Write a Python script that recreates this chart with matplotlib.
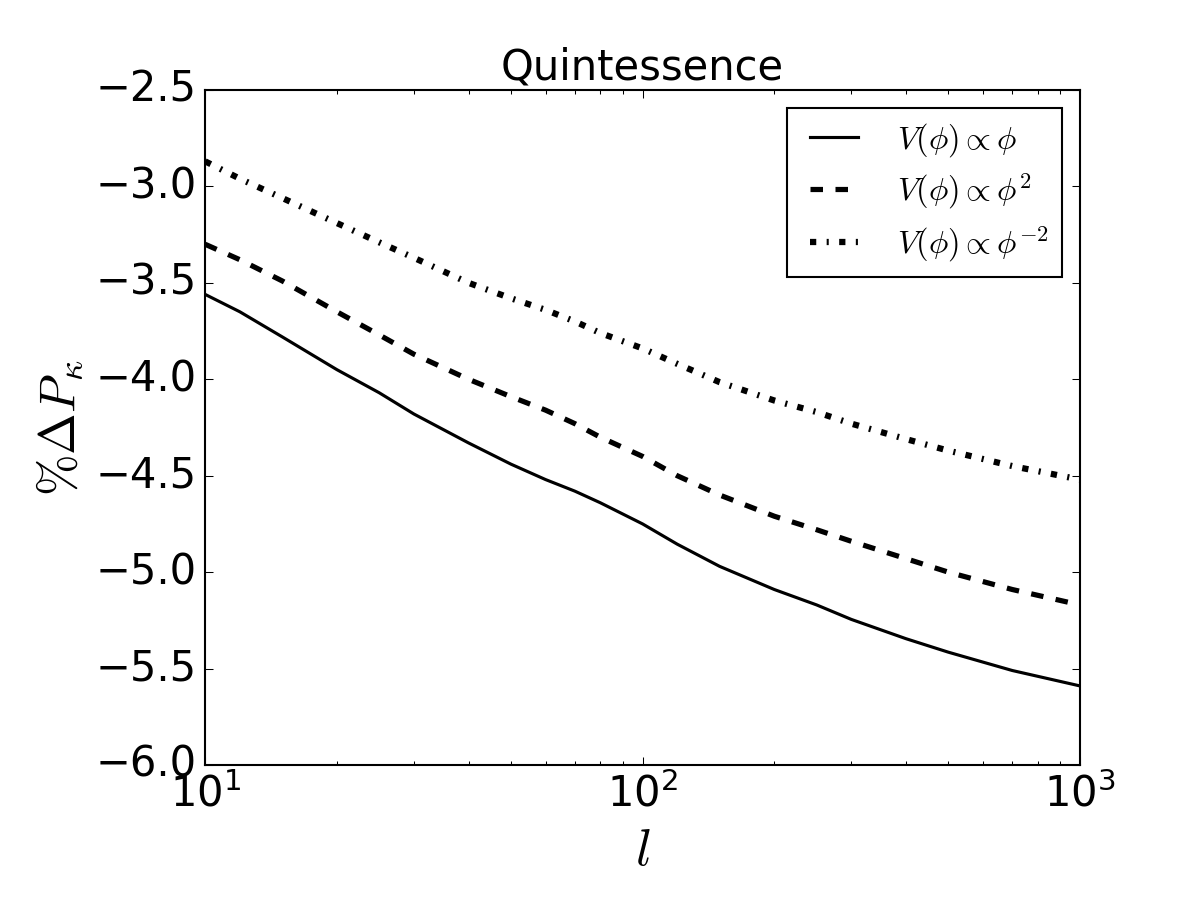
import matplotlib
matplotlib.use("Agg")
import matplotlib.pyplot as plt

plt.style.use("classic")
plt.rcParams["mathtext.fontset"] = "cm"

ell = [10, 12, 15, 20, 25, 30, 40, 50, 60, 70, 80, 100, 120, 150, 200, 250, 300, 400, 500, 700, 1000]
dp_linear = [-3.56, -3.65, -3.78, -3.95, -4.07, -4.18, -4.33, -4.44, -4.52, -4.58, -4.64,
             -4.75, -4.855, -4.97, -5.09, -5.17, -5.245, -5.345, -5.415, -5.51, -5.59]
dp_quadratic = [-3.30, -3.38, -3.49, -3.65, -3.77, -3.87, -4.00, -4.09, -4.16, -4.23, -4.30,
                -4.40, -4.50, -4.60, -4.71, -4.78, -4.84, -4.93, -5.00, -5.09, -5.17]
dp_inverse = [-2.87, -2.96, -3.06, -3.19, -3.29, -3.37, -3.50, -3.58, -3.64, -3.70, -3.76,
              -3.84, -3.92, -4.015, -4.11, -4.17, -4.23, -4.31, -4.37, -4.45, -4.52]

labels = [r"$V(\phi)\propto\phi$", r"$V(\phi)\propto\phi^2$", r"$V(\phi)\propto\phi^{-2}$"]

fig = plt.figure(figsize=(8, 6), dpi=150, facecolor="white")
ax = fig.add_axes([0.171, 0.15, 0.729, 0.75])

ax.plot(ell, dp_linear, "k-", lw=1.5, label=labels[0])
ax.plot(ell, dp_quadratic, "k--", lw=2.5, label=labels[1])
ax.plot(ell, dp_inverse, "k-.", lw=3, label=labels[2])

ax.set_xscale("log")
ax.set_xlim(10, 1000)
ax.set_ylim(-6.0, -2.5)
ax.set_yticks([-6.0, -5.5, -5.0, -4.5, -4.0, -3.5, -3.0, -2.5])
ax.tick_params(axis="both", which="major", labelsize=20)

ax.set_xlabel(r"$l$", fontsize=25)
ax.set_ylabel(r"$\%\Delta P_\kappa$", fontsize=24)
ax.set_title("Quintessence", fontsize=20)

ax.legend(loc="upper right", fontsize=15.5, labelspacing=0.4, handlelength=2.1,
          handletextpad=0.9, borderpad=0.4, borderaxespad=0.55)

fig.savefig("out.png", dpi=150, facecolor="white")
